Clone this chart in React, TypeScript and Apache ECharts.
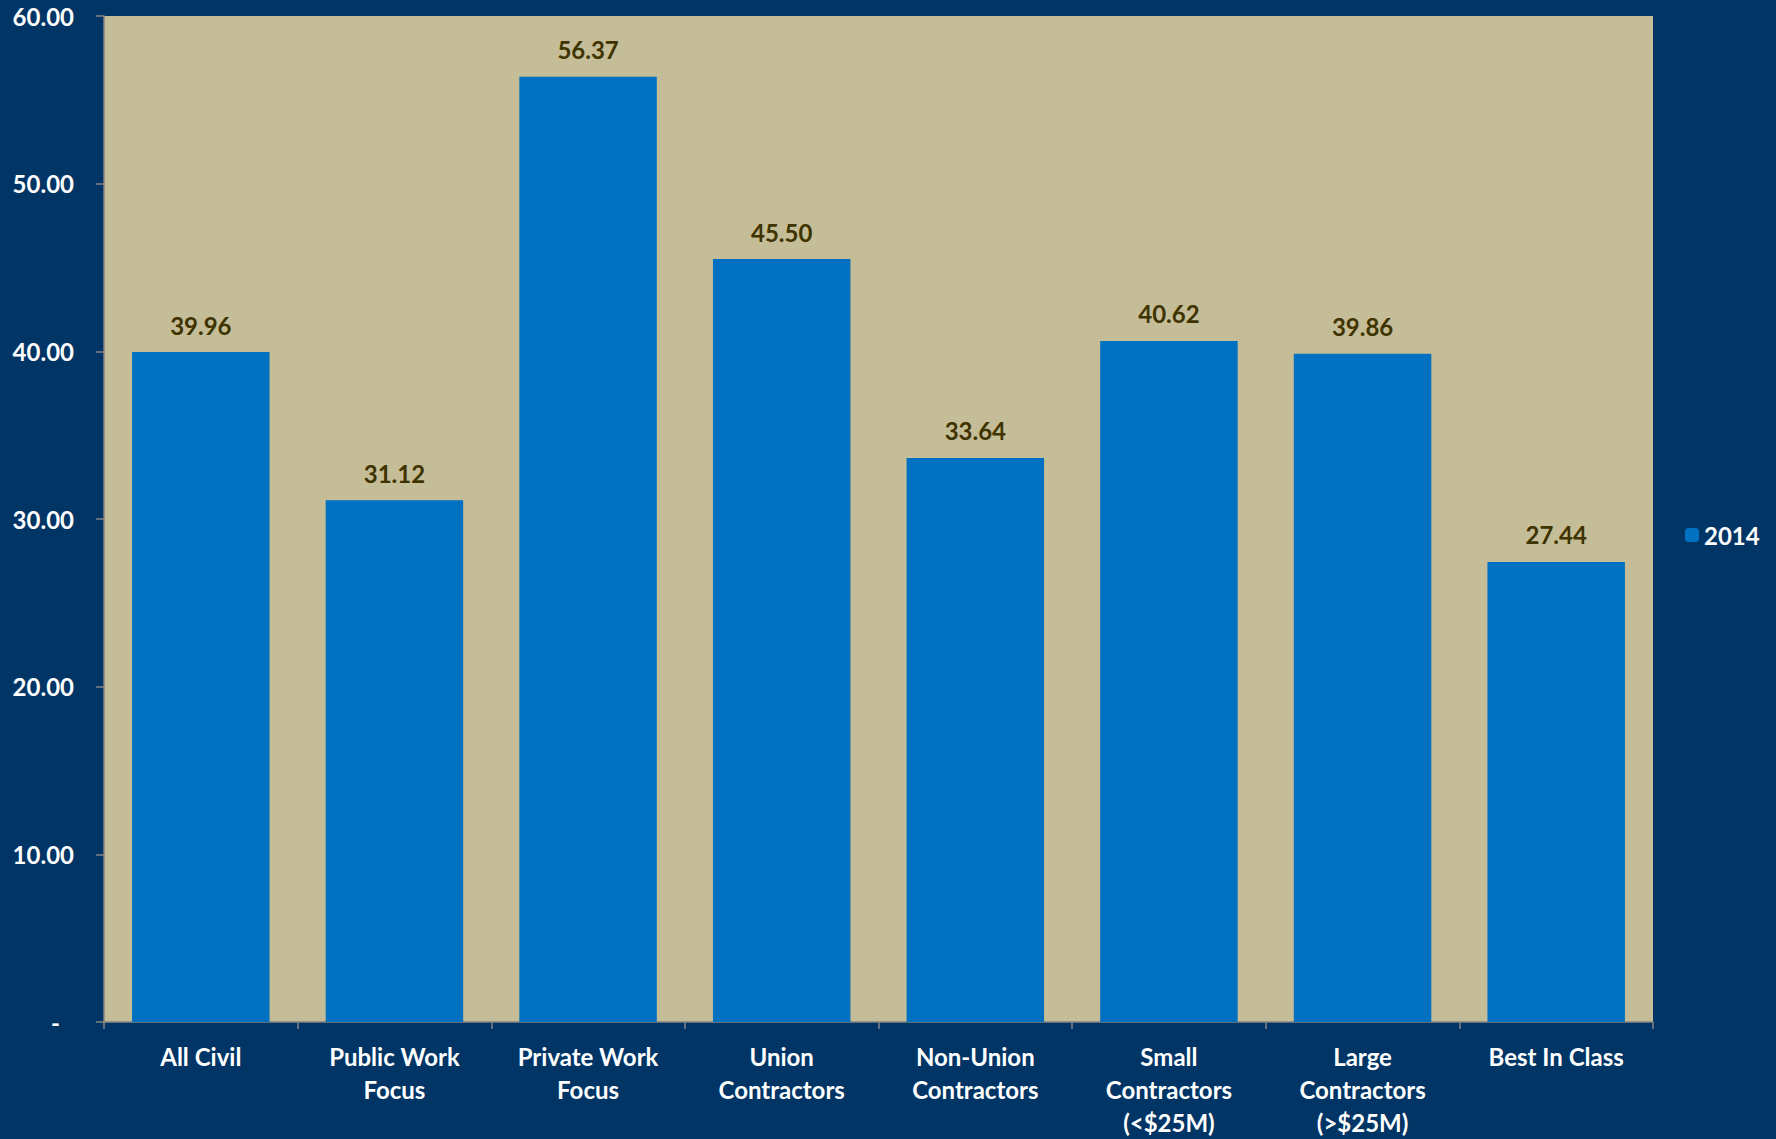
import React, { useEffect, useRef } from "react";
import * as echarts from "echarts";

const categories = [
  "All Civil",
  "Public Work\nFocus",
  "Private Work\nFocus",
  "Union\nContractors",
  "Non-Union\nContractors",
  "Small\nContractors\n(<$25M)",
  "Large\nContractors\n(>$25M)",
  "Best In Class",
];
const values2014 = [39.96, 31.12, 56.37, 45.5, 33.64, 40.62, 39.86, 27.44];
const seriesName = "2014";

const FONT = "Lato, 'Open Sans', sans-serif";

export default function App() {
  const ref = useRef<HTMLDivElement>(null);
  useEffect(() => {
    if (!ref.current) return;
    const chart = echarts.init(ref.current, undefined, { renderer: "svg" });
    chart.setOption({
      animation: false,
      backgroundColor: "#003566",
      textStyle: { fontFamily: FONT },
      legend: {
        data: [seriesName],
        orient: "vertical",
        left: 1680,
        top: 518,
        itemWidth: 14,
        itemHeight: 14,
        itemGap: 6,
        textStyle: { color: "#ffffff", fontSize: 24, fontWeight: "bold", fontFamily: FONT },
      },
      grid: { left: 104, top: 16, width: 1549, height: 1006, show: true, backgroundColor: "#C4BD97", borderWidth: 0 },
      xAxis: {
        type: "category",
        data: categories,
        axisLine: { show: true, lineStyle: { color: "#868686", width: 1.5 } },
        axisTick: { show: true, length: 7, lineStyle: { color: "#868686", width: 1.5 } },
        axisLabel: {
          color: "#ffffff",
          fontSize: 24,
          fontWeight: "bold",
          fontFamily: FONT,
          lineHeight: 33,
          margin: 18,
          interval: 0,
        },
      },
      yAxis: {
        type: "value",
        min: 0,
        max: 60,
        interval: 10,
        splitLine: { show: false },
        axisLine: { show: true, lineStyle: { color: "#868686", width: 1.5 } },
        axisTick: { show: true, length: 8, lineStyle: { color: "#868686", width: 1.5 } },
        axisLabel: {
          color: "#ffffff",
          fontSize: 24,
          fontWeight: "bold",
          fontFamily: FONT,
          margin: 30,
          formatter: (v: number) => (v === 0 ? "{z|-}" : v.toFixed(2)),
          rich: {
            z: {
              color: "#ffffff",
              fontSize: 24,
              fontWeight: "bold",
              fontFamily: FONT,
              padding: [0, 14, 0, 0],
            },
          },
        },
      },
      series: [
        {
          name: seriesName,
          type: "bar",
          data: values2014,
          barWidth: "71%",
          itemStyle: { color: "#0070C0" },
          label: {
            show: true,
            position: "top",
            distance: 15,
            color: "#3F3300",
            fontSize: 24,
            fontWeight: "bold",
            fontFamily: FONT,
            formatter: (p: any) => Number(p.value).toFixed(2),
          },
        },
      ],
    });
    return () => chart.dispose();
  }, []);
  return (
    <div
      ref={ref}
      style={{ position: "fixed", left: 0, top: 0, width: 1776, height: 1139 }}
    />
  );
}
